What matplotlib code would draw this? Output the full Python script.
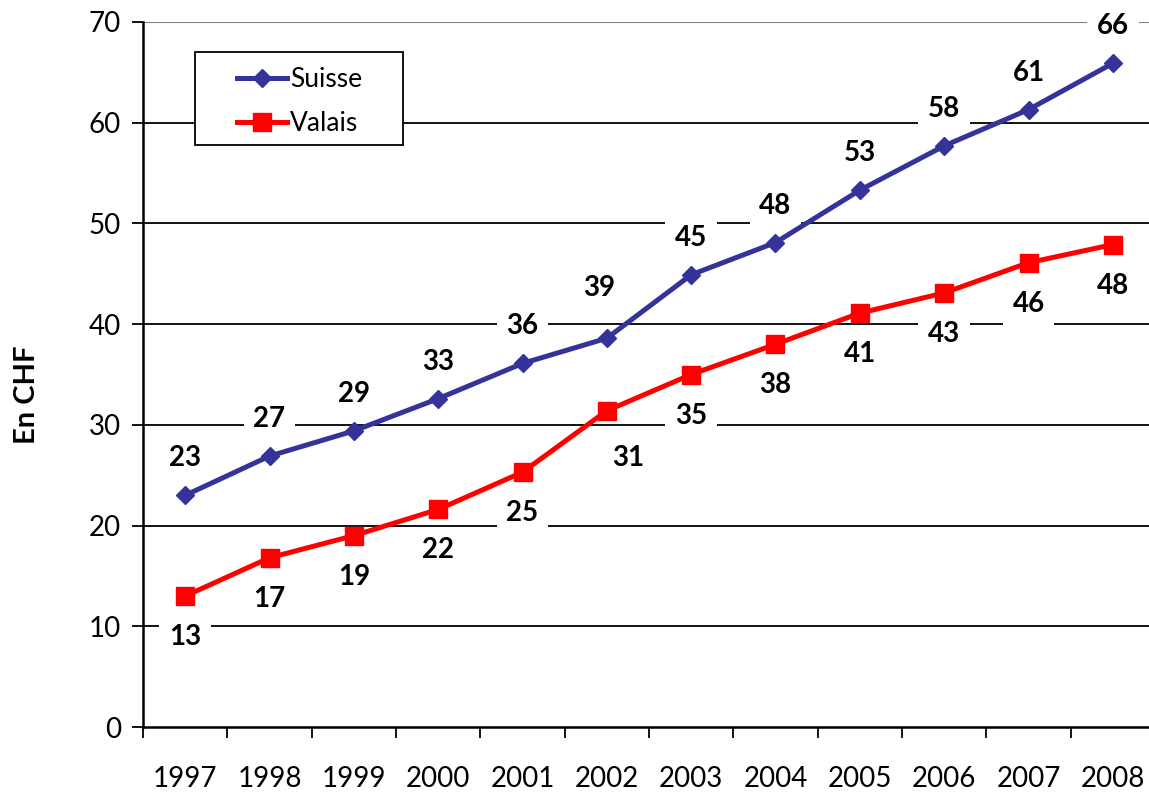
import numpy as np
import matplotlib.pyplot as plt
from matplotlib.patches import Rectangle

plt.rcParams['font.family'] = ['Lato', 'DejaVu Sans']

years = ['1997', '1998', '1999', '2000', '2001', '2002',
         '2003', '2004', '2005', '2006', '2007', '2008']
suisse = [23.0, 26.9, 29.4, 32.6, 36.1, 38.6, 44.9, 48.1, 53.3, 57.7, 61.3, 65.9]
valais = [13.0, 16.8, 19.0, 21.6, 25.3, 31.4, 35.0, 38.0, 41.1, 43.1, 46.1, 47.9]

# label offsets in pixels (dx, dy)
off_s = [(0, 37)] * 12
off_v = [(0, -41)] * 12
off_s[5] = (-8, 50)
off_v[5] = (21, -47)

fig = plt.figure(figsize=(11.49, 7.94), dpi=100)
ax = fig.add_axes([143/1149, 1 - 727/794, 1012/1149, 705/794])

x = np.arange(len(years))
ax.plot(x, suisse, '-', color='#333399', lw=3.6, marker='D', ms=9,
        label='Suisse', zorder=3)
ax.plot(x, valais, '-', color='#FF0000', lw=3.6, marker='s', ms=13,
        label='Valais', zorder=3)

for i in range(len(years)):
    ax.annotate('%d' % round(suisse[i]), (x[i], suisse[i]), xytext=off_s[i],
                textcoords='offset pixels', ha='center', va='center',
                fontsize=20, fontweight='bold', zorder=2,
                bbox=dict(boxstyle='square,pad=0.35', fc='white', ec='none'))
    ax.annotate('%d' % round(valais[i]), (x[i], valais[i]), xytext=off_v[i],
                textcoords='offset pixels', ha='center', va='center',
                fontsize=20, fontweight='bold', zorder=2,
                bbox=dict(boxstyle='square,pad=0.35', fc='white', ec='none'))

ax.set_xlim(-0.5, 11.5)
ax.set_ylim(0, 70)
ax.set_yticks(np.arange(0, 71, 10))
ax.set_xticks(x)
ax.set_xticklabels(years)
ax.set_xticks(np.arange(-0.5, 11.6, 1), minor=True)
ax.tick_params(axis='x', which='major', length=0, labelsize=20, pad=28)
ax.tick_params(axis='x', which='minor', length=8, width=1.3, direction='out')
ax.tick_params(axis='y', length=8, width=1.3, direction='out', labelsize=20, pad=8)

for v in range(10, 70, 10):
    ax.axhline(v, color='black', lw=1.3, zorder=1)
ax.axhline(70, color='#808080', lw=1.5, zorder=1)

for s in ['top', 'right']:
    ax.spines[s].set_visible(False)
ax.spines['left'].set_linewidth(1.8)
ax.spines['bottom'].set_linewidth(1.8)

ax.set_ylabel('En CHF', fontsize=21, fontweight='bold')
ax.yaxis.set_label_coords(-0.102, 0.471)

# legend frame drawn separately (Excel-style wide box)
ax.add_patch(Rectangle((52/1012, 582/705), 208/1012, 93/705,
                       transform=ax.transAxes, fc='white', ec='black',
                       lw=1.3, zorder=4))
leg = ax.legend(loc='upper left', bbox_to_anchor=(94/1012, 1 - 45/705),
                borderaxespad=0, borderpad=0, fontsize=19, frameon=False,
                handlelength=1.9, handletextpad=0.1, labelspacing=0.72)
leg.set_zorder(5)

fig.savefig('out.png', dpi=100)
